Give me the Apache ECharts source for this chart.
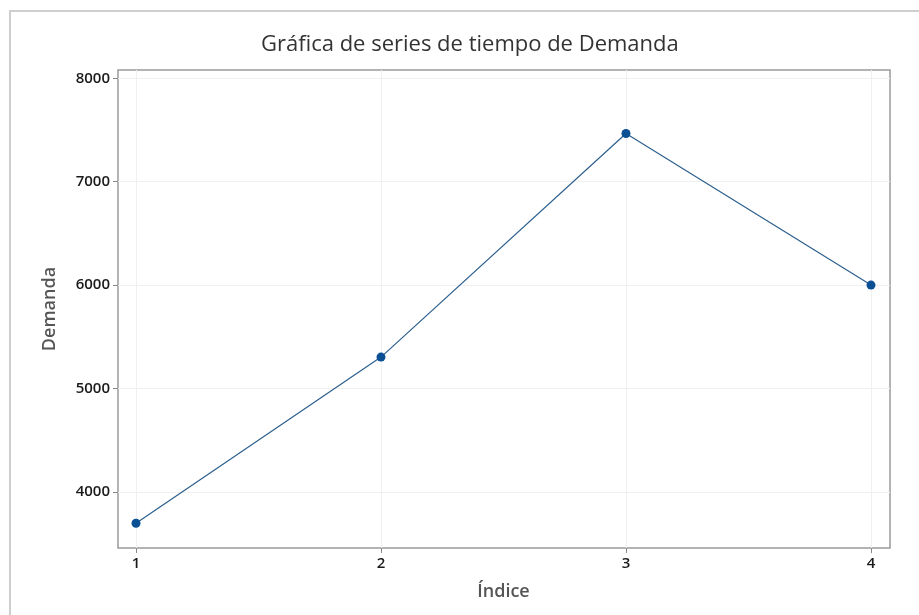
<!DOCTYPE html>
<html>
<head>
<meta charset="utf-8">
<script src="https://cdn.jsdelivr.net/npm/echarts@6/dist/echarts.min.js"></script>
<style>
  html, body { margin: 0; padding: 0; background: #fff; }
  #LineChart { width: 919px; height: 615px; }
</style>
</head>
<body>
<div id="LineChart"></div>
<script>
/*数据*/
var indices = [1, 2, 3, 4];
var demanda = [3697, 5304, 7466, 6000];
var yTicks = [4000, 5000, 6000, 7000, 8000];
var xTicks = [1, 2, 3, 4];

var font = "'Open Sans', 'Noto Sans', sans-serif";
var myChart = echarts.init(document.getElementById("LineChart"));

var points = indices.map(function (v, i) {
  return [v, demanda[i]];
});

var option = {
  animation: false,
  title: {
    text: "Gráfica de series de tiempo de Demanda",
    left: 256,
    top: 29,
    textStyle: {
      color: "#333",
      fontFamily: font,
      fontSize: 22,
      fontWeight: 500,
    },
  },
  // 外框
  graphic: [
    {
      type: "rect",
      shape: { x: 10, y: 11, width: 940, height: 640 },
      style: { fill: "none", stroke: "#cfcfcf", lineWidth: 2 },
      silent: true,
    },
  ],
  grid: [
    // 数据区
    { left: 136, right: 48, top: 70, bottom: 67 },
    // 边框区
    {
      left: 118,
      right: 29,
      top: 70,
      bottom: 67,
      show: true,
      borderColor: "#9a9a9a",
      borderWidth: 1.5,
      backgroundColor: "transparent",
    },
  ],
  xAxis: [
    {
      gridIndex: 0,
      type: "value",
      min: 1,
      max: 4,
      interval: 1,
      name: "Índice",
      nameLocation: "middle",
      nameGap: 35,
      nameTextStyle: {
        color: "#555",
        fontFamily: font,
        fontSize: 18,
        fontWeight: 600,
      },
      axisLine: { show: false },
      axisTick: {
        show: true,
        length: 5,
        lineStyle: { color: "#888" },
      },
      axisLabel: {
        color: "#1a1a1a",
        fontFamily: font,
        fontSize: 15,
        fontWeight: 600,
        margin: 8,
      },
      splitLine: {
        show: true,
        lineStyle: { color: "#f0f0f0", width: 1 },
      },
    },
    {
      gridIndex: 1,
      type: "value",
      min: 0,
      max: 1,
      show: false,
    },
  ],
  yAxis: [
    {
      gridIndex: 0,
      type: "value",
      min: 3458,
      max: 8080,
      show: false,
    },
    {
      gridIndex: 1,
      type: "value",
      min: 3458,
      max: 8080,
      name: "Demanda",
      nameLocation: "middle",
      nameRotate: 90,
      nameGap: 59,
      nameTextStyle: {
        color: "#555",
        fontFamily: font,
        fontSize: 18,
        fontWeight: 600,
      },
      axisLine: { show: false },
      axisTick: {
        show: true,
        length: 5,
        customValues: yTicks,
        lineStyle: { color: "#888" },
      },
      axisLabel: {
        color: "#1a1a1a",
        fontFamily: font,
        fontSize: 15,
        fontWeight: 600,
        margin: 8,
        customValues: yTicks,
        formatter: function (v) {
          return String(v);
        },
      },
      splitLine: {
        show: true,
        lineStyle: { color: "#f0f0f0", width: 1 },
      },
    },
  ],
  series: [
    {
      type: "line",
      xAxisIndex: 0,
      yAxisIndex: 0,
      data: points,
      symbol: "circle",
      symbolSize: 9,
      itemStyle: { color: "#0b4f94" },
      lineStyle: { color: "#2c5f8e", width: 1.2 },
    },
  ],
};

myChart.setOption(option);
</script>
</body>
</html>
